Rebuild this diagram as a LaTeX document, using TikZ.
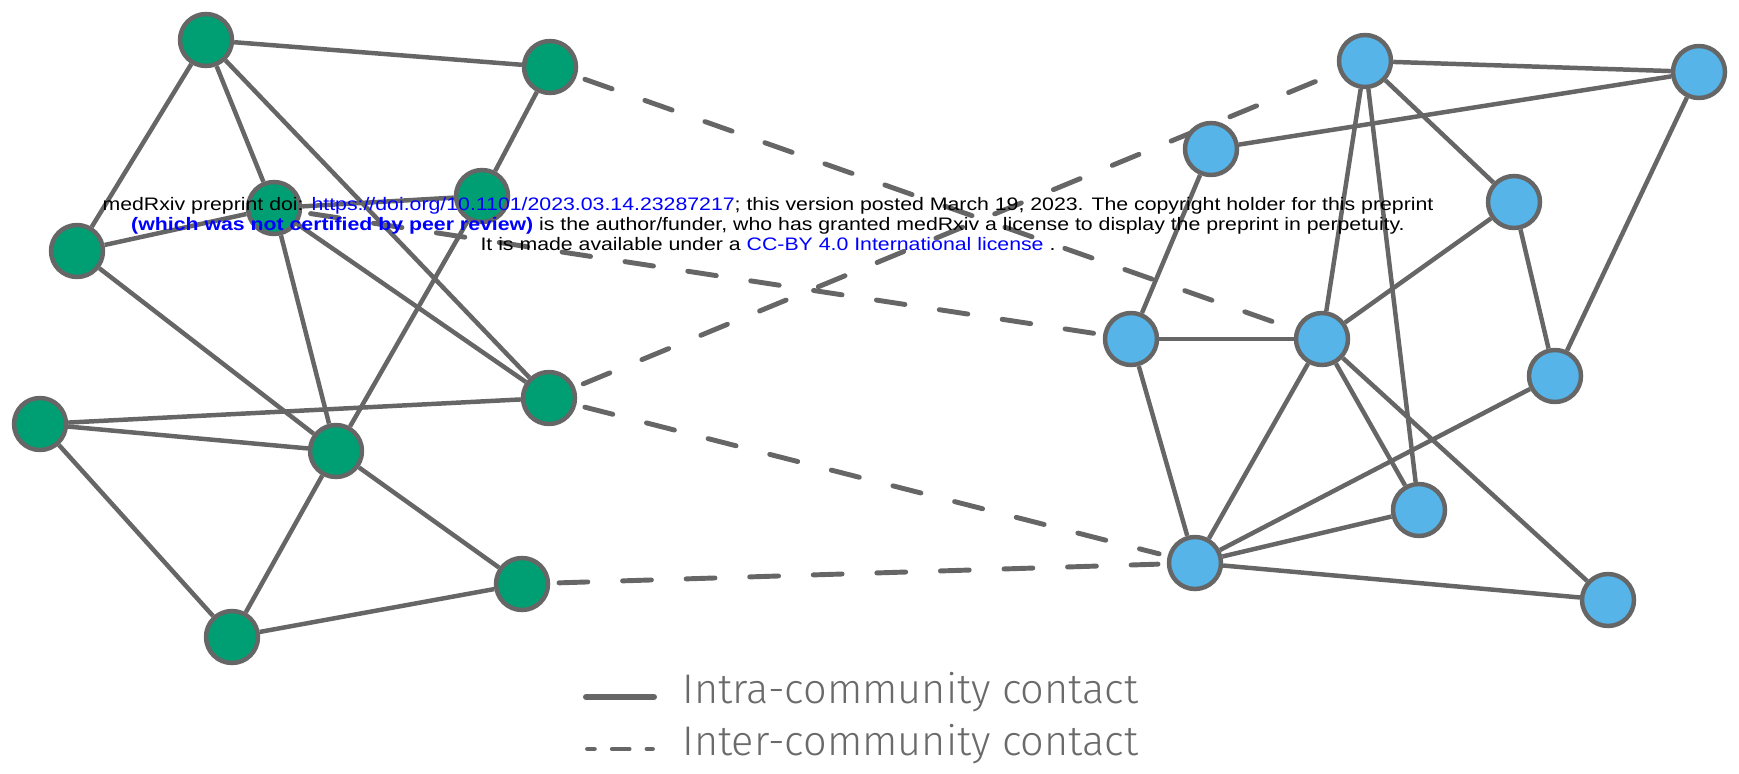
\documentclass[tikz,border=0pt]{standalone}
\usepackage{fontspec}
\setmainfont{Liberation Sans}
\newfontfamily\stampfont{Liberation Sans}[FakeStretch=1.176]
\newfontfamily\legendfont{Fira Sans}[UprightFont={* Light}]
\usetikzlibrary{backgrounds}

\definecolor{nodegreen}{HTML}{009E73}
\definecolor{nodeblue}{HTML}{56B4E9}
\definecolor{edgegray}{HTML}{666666}
\definecolor{legendgray}{HTML}{6A6A6A}
\definecolor{linkblue}{HTML}{0000FF}

\begin{document}
\begin{tikzpicture}[x=0.02cm, y=-0.02cm,
    vertex/.style={circle, draw=edgegray, line width=2.55pt, minimum size=1.04cm, inner sep=0pt},
    greenvertex/.style={vertex, fill=nodegreen},
    bluevertex/.style={vertex, fill=nodeblue},
    intra/.style={draw=edgegray, line width=2.55pt},
    inter/.style={draw=edgegray, line width=2.8pt, line cap=round, dash pattern=on 16.4pt off 19.8pt, shorten <=5pt, shorten >=5pt},
    legendtext/.style={anchor=base west, inner sep=0pt, text=legendgray, font=\legendfont\fontsize{23.6}{28}\selectfont}]
    \useasboundingbox (0,0) rectangle (1739,774);

    % community 1
    \node[greenvertex] (g1) at (206,40) {};
    \node[greenvertex] (g2) at (550,67) {};
    \node[greenvertex] (g3) at (274,208) {};
    \node[greenvertex] (g4) at (482,196) {};
    \node[greenvertex] (g5) at (77,251) {};
    \node[greenvertex] (g6) at (40,424) {};
    \node[greenvertex] (g7) at (336,451) {};
    \node[greenvertex] (g8) at (549,398) {};
    \node[greenvertex] (g9) at (522,584) {};
    \node[greenvertex] (g10) at (232,637) {};

    % community 2
    \node[bluevertex] (b1) at (1365,61) {};
    \node[bluevertex] (b2) at (1699,72) {};
    \node[bluevertex] (b3) at (1211,149) {};
    \node[bluevertex] (b4) at (1514,202) {};
    \node[bluevertex] (b5) at (1131,339) {};
    \node[bluevertex] (b6) at (1322,339) {};
    \node[bluevertex] (b7) at (1555,376) {};
    \node[bluevertex] (b8) at (1419,510) {};
    \node[bluevertex] (b9) at (1195,563) {};
    \node[bluevertex] (b10) at (1608,600) {};

    \begin{scope}[on background layer]
      \draw[intra] (g1) -- (g2);
      \draw[intra] (g1) -- (g5);
      \draw[intra] (g1) -- (g3);
      \draw[intra] (g1) -- (g8);
      \draw[intra] (g2) -- (g4);
      \draw[intra] (g3) -- (g5);
      \draw[intra] (g3) -- (g4);
      \draw[intra] (g3) -- (g7);
      \draw[intra] (g3) -- (g8);
      \draw[intra] (g4) -- (g7);
      \draw[intra] (g5) -- (g7);
      \draw[intra] (g6) -- (g8);
      \draw[intra] (g6) -- (g7);
      \draw[intra] (g6) -- (g10);
      \draw[intra] (g7) -- (g10);
      \draw[intra] (g7) -- (g9);
      \draw[intra] (g9) -- (g10);

      \draw[intra] (b1) -- (b2);
      \draw[intra] (b3) -- (b2);
      \draw[intra] (b1) -- (b4);
      \draw[intra] (b1) -- (b6);
      \draw[intra] (b1) -- (b8);
      \draw[intra] (b2) -- (b7);
      \draw[intra] (b3) -- (b5);
      \draw[intra] (b4) -- (b6);
      \draw[intra] (b4) -- (b7);
      \draw[intra] (b5) -- (b6);
      \draw[intra] (b5) -- (b9);
      \draw[intra] (b6) -- (b9);
      \draw[intra] (b6) -- (b8);
      \draw[intra] (b6) -- (b10);
      \draw[intra] (b7) -- (b9);
      \draw[intra] (b8) -- (b9);
      \draw[intra] (b9) -- (b10);

      \draw[inter] (g2) -- (b6);
      \draw[inter] (g3) -- (b5);
      \draw[inter] (g8) -- (b1);
      \draw[inter] (g8) -- (b9);
      \draw[inter] (g9) -- (b9);
    \end{scope}

    % legend
    \coordinate (intraA) at (586,697);
    \coordinate (intraB) at (654,697);
    \coordinate (interA) at (587.5,749);
    \coordinate (interB) at (652.5,749);
    \draw[draw=edgegray, line width=3.4pt, line cap=round] (intraA) -- (intraB);
    \draw[draw=edgegray, line width=2.8pt, line cap=round, dash pattern=on 9.6pt off 10.2pt, dash phase=5.7pt] (interA) -- (interB);
    \node[legendtext] (intralabel) at (682,703) {Intra-community contact};
    \node[legendtext] (interlabel) at (682,755) {Inter-community contact};

    \node[align=center, inner sep=0pt, font=\stampfont\fontsize{10.3}{11.6}\selectfont] (stamp) at (768,224) {medRxiv preprint doi: \textcolor{linkblue}{https://doi.org/10.1101/2023.03.14.23287217}; this version posted March 19, 2023. The copyright holder for this preprint\\
      \textcolor{linkblue}{\bfseries (which was not certified by peer review)} is the author/funder, who has granted medRxiv a license to display the preprint in perpetuity.\\
      It is made available under a \textcolor{linkblue}{CC-BY 4.0 International license} .};
  \end{tikzpicture}
\end{document}
